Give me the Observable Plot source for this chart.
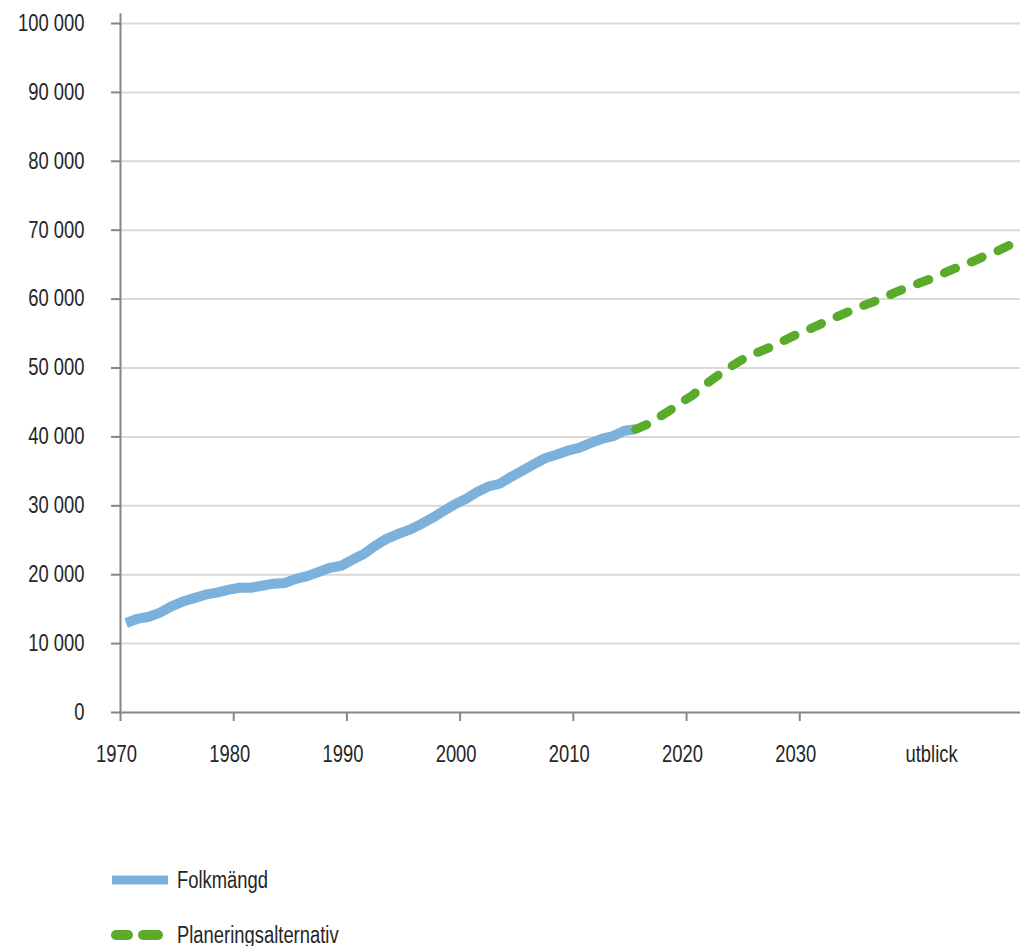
<!DOCTYPE html>
<html><head><meta charset="utf-8">
<script src="https://cdn.jsdelivr.net/npm/d3@7"></script>
<script src="https://cdn.jsdelivr.net/npm/@observablehq/plot@0.6"></script>
<style>
body{margin:0;background:#fff;font-family:"Liberation Sans",Arial,sans-serif;}
#legend{position:relative;height:156px;width:1021px;}
.item{position:absolute;left:110px;height:30px;display:flex;align-items:center;font-size:23px;color:#262626;}
.item svg{display:block;margin-right:7px;}
.item span{display:inline-block;transform:scaleX(0.8);transform-origin:left center;}
</style></head><body>
<div id="chart"></div>
<div id="legend"></div>
<script>
// Folkmängd (historical population)
const histYears = [1970,1971,1972,1973,1974,1975,1976,1977,1978,1979,
  1980,1981,1982,1983,1984,1985,1986,1987,1988,1989,
  1990,1991,1992,1993,1994,1995,1996,1997,1998,1999,
  2000,2001,2002,2003,2004,2005,2006,2007,2008,2009,
  2010,2011,2012,2013,2014,2015];
const histValues = [13000,13600,13900,14500,15400,16100,16600,17100,17400,17800,
  18100,18100,18400,18700,18800,19400,19800,20400,21000,21300,
  22200,23000,24200,25200,25900,26500,27300,28200,29200,30200,
  31000,32000,32800,33200,34200,35100,36000,36900,37400,38000,
  38400,39100,39700,40100,40900,41100];
// Planeringsalternativ (projection)
const planYears = [2015,2016,2017,2018,2019,2020,2021,2022,2023,2024,
  2025,2026,2027,2028,2029,2030,2031,2032,2033,2034,
  2035,2036,2037,2038,2039,2040,2041,2042,2043,2044,
  2045,2046,2047,2048,2049];
const planValues = [41100,41800,42800,43800,45000,46000,47400,48600,49800,50800,
  51800,52400,53100,53900,54700,55400,56100,56900,57600,58300,
  59000,59600,60300,61000,61700,62300,62900,63600,64300,65000,
  65600,66400,67000,67800,68400];

const yTicks = [0,10000,20000,30000,40000,50000,60000,70000,80000,90000,100000];
const yLabels = ["0","10 000","20 000","30 000","40 000","50 000","60 000","70 000","80 000","90 000","100 000"];
const xTickPositions = [1969.5,1979.5,1989.5,1999.5,2009.5,2019.5,2029.5];
const xLabelPositions = [1969.5,1979.5,1989.5,1999.5,2009.5,2019.5,2029.5,2041.5];
const xLabels = ["1970","1980","1990","2000","2010","2020","2030","utblick"];
const seriesNames = ["Folkmängd","Planeringsalternativ"];
const colors = ["#7bb1db","#5bab2a"];

const hist = histYears.map((y,i)=>({year:y,value:histValues[i]}));
const plan = planYears.map((y,i)=>({year:y,value:planValues[i]}));
const yMap = new Map(yTicks.map((d,i)=>[d,yLabels[i]]));
const xMap = new Map(xLabelPositions.map((d,i)=>[d,xLabels[i]]));
const font = '"Liberation Sans",Arial,sans-serif';
const axisGray = "#868686";

const chart = Plot.plot({
  width: 1021, height: 790,
  marginLeft: 120, marginRight: 1, marginTop: 23, marginBottom: 78,
  style: {fontFamily: font, fontSize: "23px", color: "#262626", background: "#fff", overflow: "visible"},
  x: {domain: [1969.5, 2049], axis: null},
  y: {domain: [0, 100000], axis: null},
  marks: [
    Plot.gridY(yTicks.filter(d => d > 0), {stroke: "#d9d9d9", strokeOpacity: 1, strokeWidth: 2}),
    Plot.ruleY([0], {stroke: axisGray, strokeWidth: 2}),
    Plot.ruleX([1969.5], {y1: 0, y2: 101400, stroke: axisGray, strokeWidth: 2}),
    Plot.axisY(yTicks, {label: null, tickSize: 9, tickPadding: 27, tickFormat: d => yMap.get(d), stroke: axisGray, strokeWidth: 2, fill: "#262626"}),
    Plot.axisX(xTickPositions, {label: null, tickSize: 9, tickFormat: () => "", stroke: axisGray, strokeWidth: 2}),
    Plot.axisX(xLabelPositions, {label: null, tickSize: 0, tickPadding: 33, dx: -4, tickFormat: d => xMap.get(d), fill: "#262626"}),
    Plot.line(hist, {x: "year", y: "value", stroke: colors[0], strokeWidth: 10, strokeLinejoin: "round", strokeLinecap: "butt"}),
    Plot.line(plan, {x: "year", y: "value", stroke: colors[1], strokeWidth: 9, strokeDasharray: "12 17", strokeLinecap: "round", strokeLinejoin: "round"})
  ]
});
// condense the text horizontally to mimic the narrow typeface
chart.querySelectorAll("text").forEach(t => {
  const x = +t.getAttribute("x") || 0;
  const tr = t.getAttribute("transform") || "";
  t.setAttribute("transform", `${tr} translate(${x},0) scale(0.8,1) translate(${-x},0)`);
});
document.getElementById("chart").appendChild(chart);

const legend = document.getElementById("legend");
const items = [
  {top: 75, svg: `<svg width="60" height="14"><line x1="2" x2="58" y1="7" y2="7" stroke="${colors[0]}" stroke-width="9"/></svg>`},
  {top: 130, svg: `<svg width="60" height="14"><line x1="6" x2="18" y1="7" y2="7" stroke="${colors[1]}" stroke-width="10" stroke-linecap="round"/><line x1="33" x2="48" y1="7" y2="7" stroke="${colors[1]}" stroke-width="10" stroke-linecap="round"/></svg>`}
];
items.forEach((it,i)=>{
  const d = document.createElement("div");
  d.className = "item";
  d.style.top = it.top + "px";
  d.innerHTML = it.svg + `<span>${seriesNames[i]}</span>`;
  legend.appendChild(d);
});
</script>
</body></html>
